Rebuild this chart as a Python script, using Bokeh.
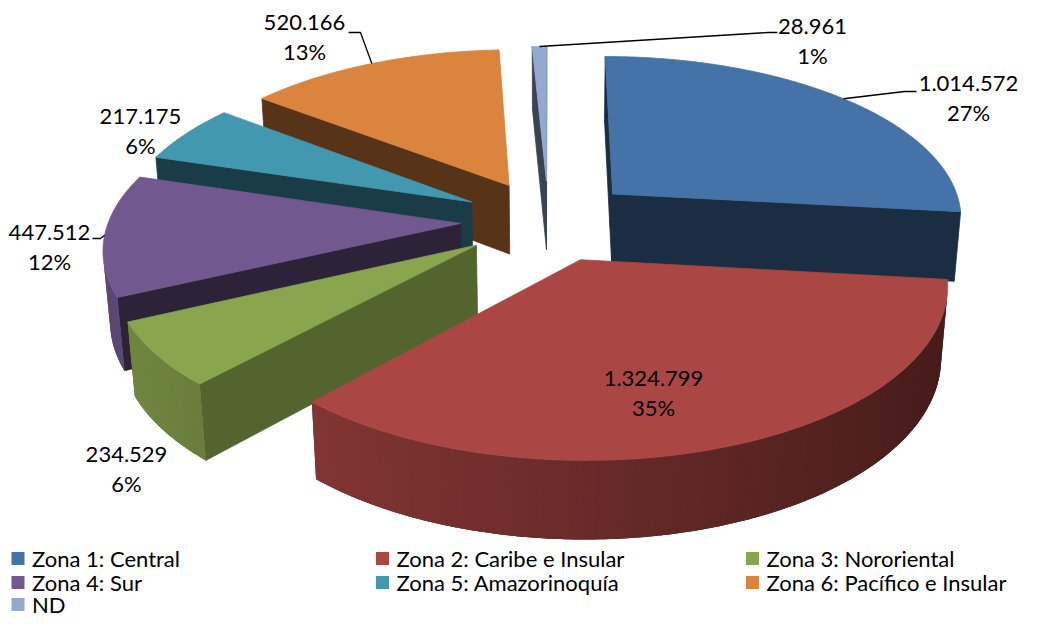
import math
import numpy as np
from bokeh.plotting import figure
from bokeh.models import Range1d
from bokeh.core.properties import value
from bokeh.embed import file_html
from bokeh.resources import INLINE

# ---------------- data ----------------
categories = ["Zona 1: Central", "Zona 2: Caribe e Insular", "Zona 3: Nororiental",
              "Zona 4: Sur", "Zona 5: Amazorinoquía", "Zona 6: Pacífico e Insular", "ND"]
values = [1014572, 1324799, 234529, 447512, 217175, 520166, 28961]
pct_labels = ["27%", "35%", "6%", "12%", "6%", "13%", "1%"]

# ---------------- style ----------------
colors = ["#4572A7", "#AA4643", "#89A54E", "#71588F", "#4198AF", "#DB843D", "#93A9CF"]
FONT = value("Lato")
LABEL_SIZE = "22px"
LEGEND_SIZE = "22px"

# camera / 3D pie layout (screen pixel space)
F_LEN = 2340.0
CAM_D = 5.901
CAM_H = 3.072
CAM_N = math.hypot(CAM_D, CAM_H)
CX, CY = 548.0, 220.0
EXPLODE = 0.25
THICK = 0.228

# label layout: centre of the value line (percentage line sits below)
label_pos = [(968, 83), (653, 378), (126, 454), (49, 232), (140, 116), (304, 22), (812, 26)]
LINE_GAP = 29
# leader knees/ends (None = no leader)
leaders = [[(904, 91), (916, 91)], None, None, [(100, 238), (92, 238)], None,
           [(360, 32), (348, 32)], [(768, 32), (777, 32)]]

legend_cols = [17.5, 382.0, 752.0]
legend_rows = [558.0, 582.0, 604.0]
LEG_BOX = 13
LEG_TEXT_DX = 14


def proj(x, y, z):
    ry = y - CAM_H
    rz = z + CAM_D
    zc = (-CAM_H * ry + CAM_D * rz) / CAM_N
    yc = (CAM_D * ry + CAM_H * rz) / CAM_N
    return CX + F_LEN * x / zc, CY - F_LEN * yc / zc


def depth(x, y, z):
    ry = y - CAM_H
    rz = z + CAM_D
    return (-CAM_H * ry + CAM_D * rz) / CAM_N


def shade(hexcol, f):
    h = hexcol.lstrip("#")
    r, g, b = (int(h[i:i + 2], 16) for i in (0, 2, 4))
    f = max(0.0, min(1.0, f))
    return "#%02x%02x%02x" % (int(r * f), int(g * f), int(b * f))


def visible(nx, nz, px, pz):
    return nx * (0.0 - px) + nz * (-CAM_D - pz) > 0


def cut_factor(phi):
    if 110 < phi < 150:
        return 0.40 + 0.0118 * (150 - phi)
    return 0.40


def wall_factor(t):
    return 0.62 - 0.22 * math.sin(t)


total = float(sum(values))
cum = 0.0
slices = []
for i, v in enumerate(values):
    fr = v / total
    a0 = 2 * math.pi * cum
    a1 = 2 * math.pi * (cum + fr)
    cum += fr
    mid = (a0 + a1) / 2
    ox, oz = EXPLODE * math.sin(mid), EXPLODE * math.cos(mid)
    nseg = max(4, 2 * int(math.degrees(a1 - a0)) + 1)
    ts = np.linspace(a0, a1, nseg + 1)
    dt = ts[1] - ts[0]
    faces = []  # (polygon, colour, outline?)
    # radial cut faces
    for a, (nx, nz) in [(a0, (-math.cos(a0), math.sin(a0))), (a1, (math.cos(a1), -math.sin(a1)))]:
        px, pz = ox + 0.5 * math.sin(a), oz + 0.5 * math.cos(a)
        if visible(nx, nz, px, pz):
            quad = [(ox, 0, oz), (ox + math.sin(a), 0, oz + math.cos(a)),
                    (ox + math.sin(a), -THICK, oz + math.cos(a)), (ox, -THICK, oz)]
            phi = math.degrees(math.atan2(nx, nz)) % 360
            faces.append((quad, shade(colors[i], cut_factor(phi)), True))
    # outer wall
    vis = []
    for j in range(len(ts) - 1):
        tm = (ts[j] + ts[j + 1]) / 2
        if visible(math.sin(tm), math.cos(tm), ox + math.sin(tm), oz + math.cos(tm)):
            vis.append(j)
    if vis:
        tv = ts[vis[0]:vis[-1] + 2]
        base = ([(ox + math.sin(t), 0, oz + math.cos(t)) for t in tv] +
                [(ox + math.sin(t), -THICK, oz + math.cos(t)) for t in tv[::-1]])
        faces.append((base, shade(colors[i], wall_factor(float(np.mean(tv)))), False))
        last = vis[-1]
        for j in vis:
            t0 = ts[j]
            t1 = ts[j + 1] if j == last else ts[j + 1] + 0.6 * dt
            tm = (ts[j] + ts[j + 1]) / 2
            quad = [(ox + math.sin(t0), 0, oz + math.cos(t0)), (ox + math.sin(t1), 0, oz + math.cos(t1)),
                    (ox + math.sin(t1), -THICK, oz + math.cos(t1)), (ox + math.sin(t0), -THICK, oz + math.cos(t0))]
            faces.append((quad, shade(colors[i], wall_factor(tm)), False))
    # top face
    top = [(ox, 0, oz)] + [(ox + math.sin(t), 0, oz + math.cos(t)) for t in ts]
    faces.append((top, colors[i], True))
    key = depth(ox + 0.5 * math.sin(mid), 0, oz + 0.5 * math.cos(mid))
    rim = proj(ox + math.sin(mid), 0, oz + math.cos(mid))
    slices.append((key, faces, rim))

rims = [s[2] for s in slices]
order = sorted(range(len(slices)), key=lambda k: -slices[k][0])

xs, ys, fills, lalpha = [], [], [], []
for k in order:
    for poly, col, outline in slices[k][1]:
        pts = [proj(*pt) for pt in poly]
        xs.append([p_[0] for p_ in pts])
        ys.append([p_[1] for p_ in pts])
        fills.append(col)
        lalpha.append(1.0 if outline else 0.0)

p = figure(width=1021, height=619, x_range=Range1d(0, 1021), y_range=Range1d(619, 0),
           output_backend="svg", toolbar_location=None, min_border=0,
           x_axis_type=None, y_axis_type=None)
p.grid.visible = False
p.outline_line_color = None
p.background_fill_color = "white"
p.border_fill_color = "white"

p.patches(xs, ys, fill_color=fills, line_color=fills, line_alpha=lalpha, line_width=0.8)

# leader lines
lx, ly = [], []
for i, ld in enumerate(leaders):
    if ld is None:
        continue
    pts = [rims[i]] + ld
    lx.append([q[0] for q in pts])
    ly.append([q[1] for q in pts])
p.multi_line(lx, ly, line_color="black", line_width=1.3)

# data labels
value_labels = [f"{v:,}".replace(",", ".") for v in values]
tx = [lp[0] for lp in label_pos] * 2
ty = [lp[1] for lp in label_pos] + [lp[1] + LINE_GAP for lp in label_pos]
p.text(x=tx, y=ty, text=value_labels + pct_labels, text_font=FONT, text_font_size=LABEL_SIZE,
       text_align="center", text_baseline="middle", text_color="black")

# legend
bx, by = [], []
for i, name in enumerate(categories):
    bx.append(legend_cols[i % 3])
    by.append(legend_rows[i // 3])
p.rect(x=bx, y=by, width=LEG_BOX, height=LEG_BOX, fill_color=colors, line_color=None)
p.text(x=[b + LEG_TEXT_DX for b in bx], y=by, text=categories, text_font=FONT,
       text_font_size=LEGEND_SIZE, text_align="left", text_baseline="middle", text_color="black")

open("out.html", "w").write(file_html(p, INLINE))
